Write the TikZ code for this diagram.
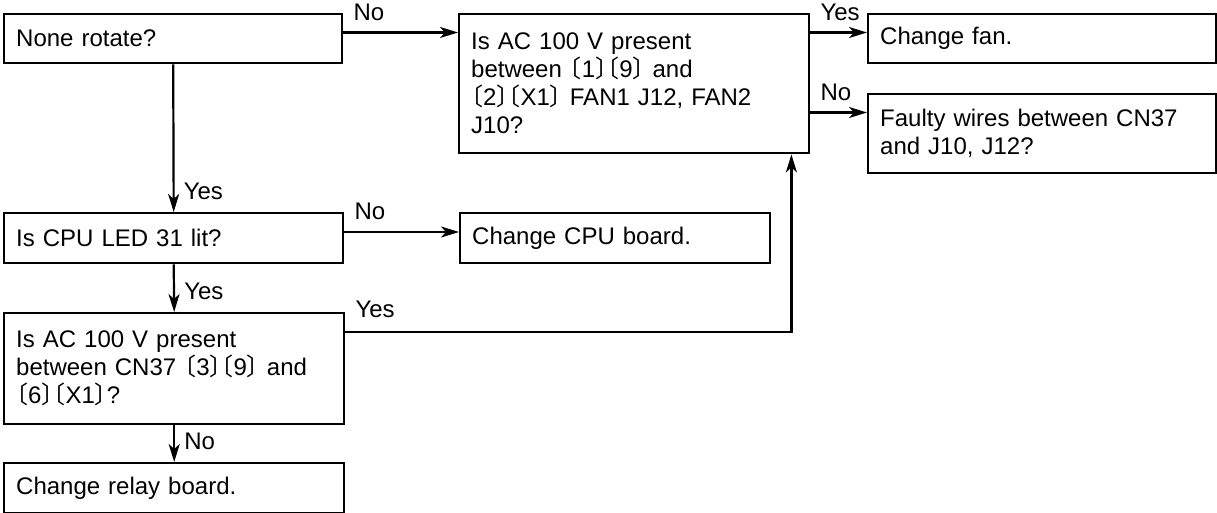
\documentclass[tikz,border=0pt]{standalone}
\usepackage{fontspec}
\setmainfont{Liberation Sans}
\newfontfamily\cjk[RawFeature=+halt]{Noto Sans CJK JP}
\usetikzlibrary{arrows.meta}
\newcommand{\pin}[1]{{\cjk 〔}#1{\cjk 〕}}

\begin{document}
\begin{tikzpicture}[x=0.5pt,y=-0.5pt,
        box/.style={draw,line width=1.2pt,anchor=north west,align=left,
            inner xsep=6pt,inner ysep=3pt,text width=#1,font=\fontsize{12}{14}\selectfont},
        flow/.style={line width=1.1pt,-{Stealth[length=9pt,width=5.5pt,inset=2.5pt]}},
        lbl/.style={anchor=base west,inner sep=0pt,xshift=4.5pt,yshift=6pt,font=\fontsize{12}{14}\selectfont}]
    % frame of the page
    \useasboundingbox (0,0) rectangle (1217,513);
    % left column
    \node[box=157pt,minimum height=24.5pt] (rot) at (3,13) {None rotate?};
    \node[box=157.5pt,minimum height=25pt] (led) at (3,212) {Is CPU LED 31 lit?};
    \node[box=158pt,minimum height=55.5pt] (relac) at (3,312)
        {Is AC 100 V present\\between CN37 \pin{3}\pin{9} and\\\pin{6}\pin{X1}?};
    \node[box=158pt,minimum height=25pt] (relay) at (3,462) {Change relay board.};
    % middle column
    \node[box=163pt,minimum height=69.5pt] (ac) at (458,13)
        {Is AC 100 V present\\between \pin{1}\pin{9} and\\\pin{2}\pin{X1} FAN1 J12, FAN2\\J10?};
    \node[box=143pt,minimum height=25pt] (cpu) at (459,212) {Change CPU board.};
    % right column
    \node[box=162pt,minimum height=24.5pt] (fan) at (867,13) {Change fan.};
    \node[box=162pt,minimum height=39.5pt] (wires) at (867,93)
        {Faulty wires between CN37\\and J10, J12?};
    % connectors
    \draw[flow] (rot.south) -- node[lbl,pos=1] {Yes} (led.north);
    \draw[flow] (led.south) -- node[lbl,pos=1] {Yes} (relac.north);
    \draw[flow] (relac.south) -- node[lbl,pos=1] {No} (relay.north);
    \coordinate (rotNo) at ([yshift=-9.75pt]rot.north east);
    \draw[flow] (rotNo) -- node[lbl,pos=0] {No} (rotNo -| ac.west);
    \coordinate (acYes) at ([yshift=-9.75pt]ac.north east);
    \draw[flow] (acYes) -- node[lbl,pos=0] {Yes} (acYes -| fan.west);
    \coordinate (wiresIn) at ([yshift=-9.75pt]wires.north west);
    \draw[flow] (wiresIn -| ac.east) -- node[lbl,pos=0] {No} (wiresIn);
    \coordinate (ledNo) at ([yshift=-10pt]led.north east);
    \draw[flow] (ledNo) -- node[lbl,pos=0] {No} (ledNo -| cpu.west);
    \coordinate (relYes) at ([yshift=-10pt]relac.north east);
    \coordinate (acIn) at ([xshift=-9.5pt]ac.south east);
    \draw[flow] (relYes) -| node[lbl,pos=0,yshift=1pt] {Yes} (acIn);
\end{tikzpicture}
\end{document}
